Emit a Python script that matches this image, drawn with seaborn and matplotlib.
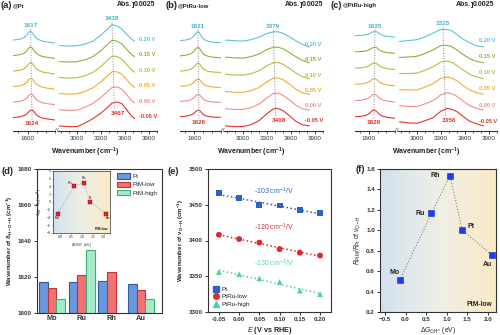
import numpy as np
import pandas as pd
import matplotlib
matplotlib.use('Agg')
import matplotlib.pyplot as plt
import seaborn as sns
from matplotlib.colors import LinearSegmentedColormap
from matplotlib.lines import Line2D
from matplotlib.patches import Patch
from matplotlib.ticker import MultipleLocator

# ------------------------------------------------------------------ data
potentials = ['-0.05 V', '0.00 V', '0.05 V', '0.10 V', '0.15 V', '0.20 V']
pot_colors = ['#e5352d', '#f48c8c', '#f5ac2e', '#bcbd3c', '#8bb23f', '#5ec3d7']

wn_lo = [1520, 1555, 1580, 1595, 1605, 1615, 1625, 1635, 1645, 1660, 1680, 1710, 1750]
wn_hi_a = [2780, 2900, 3000, 3100, 3200, 3300, 3380, 3440, 3500, 3560, 3620, 3680, 3720]
wn_hi_bc = [2780, 2900, 3000, 3100, 3200, 3300, 3380, 3440, 3500, 3580, 3660, 3740, 3830]

# absorbance (mAbs) relative to each curve's own baseline; rows: -0.05 ... 0.20 V
a_lo = [[0, 0.3, 0.9, 1.8, 2.8, 3.6, 3.8, 2.9, 1.7, 0.6, -0.2, -0.7, -1.2],
        [0, 0.3, 1.0, 2.0, 3.1, 3.9, 3.9, 2.8, 1.6, 0.5, -0.3, -0.8, -1.3],
        [0, 0.3, 1.0, 2.1, 3.3, 4.1, 3.9, 2.7, 1.5, 0.5, -0.3, -0.8, -1.3],
        [0, 0.4, 1.1, 2.2, 3.5, 4.3, 3.9, 2.6, 1.4, 0.4, -0.4, -0.9, -1.4],
        [0, 0.4, 1.1, 2.3, 3.6, 4.4, 3.8, 2.5, 1.3, 0.4, -0.4, -0.9, -1.4],
        [0, 0.4, 1.2, 2.5, 3.8, 4.5, 3.7, 2.4, 1.2, 0.3, -0.5, -1.0, -1.5]]
a_hi = [[-4.2, -4.5, -4.5, -2.8, -0.5, 2.3, 5.0, 7.3, 7.8, 7.0, 4.0, 0.8, -0.5],
        [-3.8, -4.2, -4.0, -2.6, -0.6, 2.4, 5.2, 7.4, 7.6, 6.5, 3.8, 0.8, -0.4],
        [-3.5, -3.8, -3.6, -2.4, -0.6, 2.4, 5.3, 7.5, 7.4, 6.2, 3.6, 0.7, -0.4],
        [-3.2, -3.5, -3.3, -2.3, -0.6, 2.4, 5.4, 7.6, 7.3, 6.0, 3.4, 0.6, -0.5],
        [-3.0, -3.2, -3.0, -2.1, -0.5, 2.5, 5.5, 7.7, 7.2, 5.8, 3.2, 0.6, -0.5],
        [-2.7, -3.0, -2.8, -2.0, -0.5, 2.5, 5.5, 7.8, 7.0, 5.5, 3.0, 0.5, -0.5]]
b_lo = [[0, 0.3, 0.8, 1.5, 2.3, 3.0, 3.3, 2.7, 1.6, 0.6, 0.0, -0.2, -0.3],
        [0, 0.3, 0.8, 1.6, 2.5, 3.3, 3.6, 2.8, 1.6, 0.6, 0.0, -0.3, -0.4],
        [0, 0.3, 0.9, 1.7, 2.7, 3.5, 3.8, 2.9, 1.6, 0.5, -0.1, -0.4, -0.6],
        [0, 0.3, 0.9, 1.8, 2.9, 3.8, 4.0, 2.9, 1.6, 0.5, -0.2, -0.5, -0.7],
        [0, 0.4, 1.0, 1.9, 3.1, 4.1, 4.2, 3.0, 1.6, 0.4, -0.3, -0.7, -0.9],
        [0, 0.4, 1.0, 2.0, 3.3, 4.3, 4.4, 3.0, 1.5, 0.4, -0.3, -0.8, -1.0]]
b_hi = [[-4.6, -5.0, -4.9, -4.0, -2.0, 1.5, 3.9, 4.1, 3.0, 0.5, -2.3, -4.0, -4.6],
        [-3.6, -4.0, -3.9, -3.1, -1.3, 1.9, 4.0, 4.2, 3.1, 0.8, -1.8, -3.6, -4.3],
        [-2.6, -3.0, -3.0, -2.2, -0.6, 2.3, 4.1, 4.2, 3.3, 1.1, -1.4, -3.2, -4.0],
        [-1.6, -2.0, -2.0, -1.3, 0.1, 2.7, 4.2, 4.3, 3.4, 1.4, -0.9, -2.7, -3.8],
        [-0.6, -1.0, -1.1, -0.4, 1.0, 3.2, 4.4, 4.3, 3.6, 1.7, -0.4, -2.2, -3.5],
        [0.3, 0.0, -0.2, 0.5, 1.8, 3.6, 4.5, 4.4, 3.7, 2.0, 0.0, -1.8, -3.3]]
c_lo = [[0, 0.2, 0.6, 1.2, 1.9, 2.7, 3.3, 3.2, 2.5, 1.2, 0.2, -0.4, -0.8],
        [0, 0.2, 0.6, 1.1, 1.7, 2.4, 3.0, 3.0, 2.4, 1.2, 0.2, -0.4, -0.8],
        [0, 0.2, 0.5, 1.0, 1.5, 2.2, 2.7, 2.8, 2.3, 1.1, 0.2, -0.4, -0.7],
        [0, 0.2, 0.5, 0.9, 1.4, 2.0, 2.5, 2.6, 2.2, 1.1, 0.2, -0.4, -0.7],
        [0, 0.2, 0.4, 0.8, 1.3, 1.8, 2.2, 2.4, 2.1, 1.0, 0.1, -0.4, -0.7],
        [0, 0.2, 0.4, 0.7, 1.1, 1.6, 2.0, 2.2, 2.0, 1.0, 0.1, -0.4, -0.65]]
c_hi = [[-2.5, -3.1, -3.3, -2.0, -0.5, 2.8, 4.2, 3.6, 2.5, 0.0, -2.3, -3.5, -4.6],
        [-2.6, -3.0, -3.0, -1.7, -0.1, 2.9, 3.9, 3.3, 2.1, -0.4, -2.6, -3.8, -4.8],
        [-2.7, -2.8, -2.8, -1.4, 0.3, 3.0, 3.7, 3.0, 1.7, -0.7, -2.9, -4.1, -5.0],
        [-2.7, -2.7, -2.5, -1.1, 0.7, 3.1, 3.5, 2.8, 1.3, -1.1, -3.1, -4.4, -5.2],
        [-2.8, -2.5, -2.2, -0.8, 1.0, 3.2, 3.3, 2.5, 0.9, -1.4, -3.4, -4.7, -5.4],
        [-2.9, -2.4, -2.0, -0.6, 1.3, 3.2, 3.1, 2.3, 0.5, -1.8, -3.6, -5.0, -5.6]]

# peak labels: (at -0.05 V, at 0.20 V)
a_pk_lo, a_pk_hi = (1624, 1617), (3467, 3438)
b_pk_lo, b_pk_hi = (1626, 1621), (3408, 3379)
c_pk_lo, c_pk_hi = (1629, 1635), (3356, 3325)

# (d)
metals = ['Mo', 'Ru', 'Rh', 'Au']
bar_cats = ['Pt', 'PtM-low', 'PtM-high']
d_pt = [1617, 1617, 1618, 1616]
d_low = [1614, 1621, 1623, 1613]
d_high = [1608, 1635, np.nan, 1608]

# inset (d) and (f)
f_metals = ['Mo', 'Ru', 'Rh', 'Pt', 'Au']
dG_OH = [-0.14, 0.63, 1.08, 1.38, 2.10]
d_shift = [-3, 4, 5, 0, -3]
ratio = [0.51, 1.165, 1.535, 1.00, 0.76]

# (e)
E_rhe = [-0.05, 0.00, 0.05, 0.10, 0.15, 0.20]
nu_pt = [3466, 3459, 3450, 3449, 3443, 3438]
nu_low = [3408, 3402, 3397, 3388, 3383, 3379]
nu_high = [3356, 3353, 3347, 3342, 3330, 3325]
e_series = ['Pt', 'PtRu-low', 'PtRu-high']
e_slopes = ['-103', '-120', '-130']

# ------------------------------------------------------------------ style
sns.set_theme(style='ticks')
plt.rcParams.update({
    'font.family': ['Liberation Sans', 'DejaVu Sans'],
    'mathtext.fontset': 'custom',
    'mathtext.rm': 'Liberation Sans',
    'mathtext.it': 'Liberation Sans:italic',
    'mathtext.bf': 'Liberation Sans:bold',
    'axes.linewidth': 0.8,
    'axes.edgecolor': '#333333',
    'xtick.color': '#333333',
    'ytick.color': '#333333',
    'text.color': '#222222',
    'axes.labelcolor': '#222222',
})

W, H = 500, 335
fig = plt.figure(figsize=(5, 3.35), dpi=100)


def rect(l, t, r, b):
    return [l / W, 1 - b / H, (r - l) / W, (b - t) / H]


def fx(x):
    return x / W


def fy(y):
    return 1 - y / H


SPEC_TOP, SPEC_BOT = 14, 131
YMAX = (SPEC_BOT - SPEC_TOP) * 0.5
TOP_C = '#45b6cf'
BOT_C = '#e0302a'
PANEL_FS = 6.8


def spectra_panel(x0, title, sub, lo, hi, wn_hi, L, R, base0, step, pk_lo, pk_hi,
                  lab_dy, bar_x):
    ax_lo = fig.add_axes(rect(L[0], SPEC_TOP, L[1], SPEC_BOT))
    ax_hi = fig.add_axes(rect(R[0], SPEC_TOP, R[1], SPEC_BOT))
    for k in range(6):
        base = base0 + step * k
        sns.lineplot(x=wn_lo, y=np.asarray(lo[k]) + base, ax=ax_lo,
                     color=pot_colors[k], lw=0.8)
        sns.lineplot(x=wn_hi, y=np.asarray(hi[k]) + base, ax=ax_hi,
                     color=pot_colors[k], lw=0.8)
        ax_hi.text(3770, base + lab_dy, potentials[k], color=pot_colors[k],
                   fontsize=4.1, fontweight='bold', va='center', ha='left')
    top_base = base0 + 5 * step
    # low-wavenumber peak guide
    ty = top_base + max(lo[5]) + 1.0
    ax_lo.plot([pk_lo[1], pk_lo[0]], [ty, base0 - 1.3], ls=':', color='#888888', lw=0.7)
    ax_lo.text(pk_lo[1], ty + 1.6, str(pk_lo[1]), color=TOP_C, fontsize=4.6,
               fontweight='bold', ha='center', va='center')
    ax_lo.text(pk_lo[0], base0 - 2.8, str(pk_lo[0]), color=BOT_C, fontsize=4.6,
               fontweight='bold', ha='center', va='center')
    # high-wavenumber peak guide
    ty = top_base + max(hi[5]) + 1.0
    by = base0 + max(hi[0]) - 6.0
    ax_hi.plot([pk_hi[1], pk_hi[0]], [ty, by + 1.8], ls=':', color='#888888', lw=0.7)
    ax_hi.text(pk_hi[1], ty + 1.8, str(pk_hi[1]), color=TOP_C, fontsize=4.6,
               fontweight='bold', ha='center', va='center')
    ax_hi.text(pk_hi[0] + 40, by, str(pk_hi[0]), color=BOT_C, fontsize=4.6,
               fontweight='bold', ha='center', va='center')

    for ax in (ax_lo, ax_hi):
        ax.set_facecolor('none')
        ax.set_ylim(0, YMAX)
        ax.set_yticks([])
        ax.set_xlabel('')
        ax.set_ylabel('')
        for s in ('top', 'left', 'right'):
            ax.spines[s].set_visible(False)
        ax.spines['bottom'].set_linewidth(0.8)
        ax.tick_params(axis='x', which='major', direction='out', length=2.2,
                       width=0.6, labelsize=4.5, pad=1.5)
        ax.tick_params(axis='x', which='minor', direction='out', length=1.3, width=0.5)
    ax_lo.set_xlim(1520, 1750)
    ax_lo.set_xticks([1600])
    ax_lo.xaxis.set_minor_locator(MultipleLocator(50))
    ax_hi.set_xlim(2760, 4000)
    ax_hi.set_xticks([3000, 3300, 3600, 3900])
    ax_hi.xaxis.set_minor_locator(MultipleLocator(100))

    fig.text(fx((L[1] + R[0]) / 2), fy(SPEC_BOT), '//', fontsize=4.5, ha='center',
             va='center', color='#333333')
    fig.text(fx(x0 + 0.5), fy(5), title, fontsize=PANEL_FS, fontweight='bold',
             ha='left', va='center')
    fig.text(fx(x0 + 12.5), fy(5.5), sub, fontsize=4.2, fontweight='bold',
             ha='left', va='center')
    # absorbance scale bar
    fig.text(fx(bar_x - 1.5), fy(5), 'Abs.', fontsize=5, fontweight='bold',
             ha='right', va='center')
    fig.text(fx(bar_x + 1.2), fy(5), '0.0025', fontsize=5, fontweight='bold',
             ha='left', va='center')
    fig.add_artist(Line2D([fx(bar_x - 1.3), fx(bar_x), fx(bar_x), fx(bar_x - 1.3)],
                          [fy(2.3), fy(2.3), fy(7.3), fy(7.3)], color='#222222', lw=0.7))
    fig.text(fx((L[0] + R[1]) / 2), fy(152), r'Wavenumber (cm$^{\mathbf{-1}}$)',
             fontsize=5.0, fontweight='bold', ha='center', va='center')


spectra_panel(0, '(a)', '@Pt', a_lo, a_hi, wn_hi_a, (13, 55), (57.8, 157),
              6.7, 7.75, a_pk_lo, a_pk_hi, 0.3, 133)
spectra_panel(165, '(b)', '@PtRu-low', b_lo, b_hi, wn_hi_bc, (180, 221), (223.8, 323),
              7.15, 7.6, b_pk_lo, b_pk_hi, -2.0, 301)
spectra_panel(330, '(c)', '@PtRu-high', c_lo, c_hi, wn_hi_bc, (355, 395), (397.8, 497),
              7.15, 8.1, c_pk_lo, c_pk_hi, -2.3, 472)

grad_cmap = LinearSegmentedColormap.from_list('bg', ['#d2e1ef', '#eef0e6', '#fbeac6'])


def gradient_bg(ax):
    ax.imshow(np.linspace(0, 1, 256)[None, :], cmap=grad_cmap, aspect='auto',
              extent=[0, 1, 0, 1], transform=ax.transAxes, zorder=0,
              interpolation='bilinear')


def bold_ticks(ax, size=4.5):
    ax.tick_params(labelsize=size, length=2.2, width=0.7, pad=1.5)
    for lbl in ax.get_xticklabels() + ax.get_yticklabels():
        lbl.set_fontweight('bold')


LAB_FS = 4.4

# ------------------------------------------------------------------ (d)
ax_d = fig.add_axes(rect(37, 169, 162, 313))
df_d = pd.DataFrame({'metal': metals * 3,
                     'wn': d_pt + d_low + d_high,
                     'cat': ['Pt'] * 4 + ['PtM-low'] * 4 + ['PtM-high'] * 4})
bar_faces = ['#6b97dc', '#f07272', '#a6ebc8']
bar_edges = ['#2d5aa0', '#c23434', '#3fae78']
sns.barplot(data=df_d, x='metal', y='wn', hue='cat', order=metals, hue_order=bar_cats,
            palette=bar_faces, saturation=1, width=0.87, ax=ax_d, legend=False,
            linewidth=0.8, edgecolor='k')
for cont, ec in zip(ax_d.containers, bar_edges):
    for p in cont:
        p.set_edgecolor(ec)
ax_d.set_xlim(-0.5, 3.7)
ax_d.set_ylim(1600, 1680)
ax_d.set_yticks(np.arange(1600, 1681, 20))
ax_d.set_xlabel('')
ax_d.set_ylabel(r'Wavenumber of $\mathbf{\delta_{H-O-H}}$ (cm$^{\mathbf{-1}}$)',
                fontsize=LAB_FS, fontweight='bold', labelpad=2)
bold_ticks(ax_d)
ax_d.tick_params(axis='x', labelsize=5.3, length=0)
for lbl in ax_d.get_xticklabels():
    lbl.set_fontweight('bold')
ax_d.legend(handles=[Patch(facecolor=f, edgecolor=e, lw=0.8) for f, e in zip(bar_faces, bar_edges)],
            labels=bar_cats, loc='upper right', fontsize=4.5, frameon=False,
            handlelength=2.2, handleheight=1.0, labelspacing=0.35, borderaxespad=0.3,
            handletextpad=0.4)
fig.text(fx(1), fy(172), '(d)', fontsize=PANEL_FS, fontweight='bold', ha='left', va='center')

# inset
ax_in = fig.add_axes(rect(53, 171, 110, 233))
gradient_bg(ax_in)
sns.lineplot(x=dG_OH, y=d_shift, ax=ax_in, sort=False, color='#8a8a8a', lw=0.5, ls=':')
sns.scatterplot(x=dG_OH, y=d_shift, ax=ax_in, color='#e8202a', edgecolor='#7a1010',
                s=6, marker='s', linewidth=0.3, zorder=3)
in_off = {'Mo': (0, -3.2), 'Ru': (-3, 2.5), 'Rh': (0, 3), 'Pt': (0, 3), 'Au': (2, -3.2)}
for m, xv, yv in zip(f_metals, dG_OH, d_shift):
    ax_in.annotate(m, (xv, yv), xytext=in_off[m], textcoords='offset points',
                   fontsize=2.5, ha='center', va='center')
ax_in.text(0.97, 0.04, 'PtM-low', transform=ax_in.transAxes, fontsize=2.5,
           ha='right', va='bottom', fontweight='bold')
ax_in.set_xlim(-0.35, 2.3)
ax_in.set_ylim(-8, 8)
ax_in.set_xticks([0.0, 0.5, 1.0, 1.5, 2.0])
ax_in.set_yticks(np.arange(-8, 9, 2))
ax_in.tick_params(labelsize=2.5, length=1, width=0.4, pad=0.8)
for s in ax_in.spines.values():
    s.set_linewidth(0.5)
ax_in.set_xlabel(r'$\Delta G_{\rm OH*}$ (eV)', fontsize=2.7, labelpad=0.8)
ax_in.set_ylabel(r'$\delta_{\rm PtM}-\delta_{\rm Pt}$ (cm$^{-1}$)', fontsize=2.7, labelpad=0.8)

# ------------------------------------------------------------------ (e)
ax_e = fig.add_axes(rect(208, 169, 331, 312))
e_colors = ['#2c62c6', '#e0282a', '#52d19e']
e_markers = ['s', 'o', '^']
e_vals = [nu_pt, nu_low, nu_high]
e_text_y = [3469, 3419, 3368]
for vals, col, mk, sl, ty in zip(e_vals, e_colors, e_markers, e_slopes, e_text_y):
    sns.regplot(x=E_rhe, y=vals, ax=ax_e, scatter=False, ci=None,
                line_kws=dict(ls=':', lw=1.1, color=col))
    sns.scatterplot(x=E_rhe, y=vals, ax=ax_e, color=col, marker=mk, s=18,
                    edgecolor='none', zorder=3)
    ax_e.text(0.087, ty, sl + r' cm$^{-1}$/V', color=col, fontsize=5,
              ha='center', va='center')
ax_e.set_xlim(-0.077, 0.227)
ax_e.set_ylim(3300, 3500)
ax_e.set_xticks(E_rhe)
ax_e.set_xticklabels(['-0.05', '0.00', '0.05', '0.10', '0.15', '0.20'])
ax_e.set_yticks(np.arange(3300, 3501, 50))
ax_e.set_xlabel(r'$\mathbf{\mathit{E}}$ (V vs RHE)', fontsize=5.2, fontweight='bold', labelpad=2)
ax_e.set_ylabel(r'Wavenumber of $\mathbf{\nu_{O-H}}$ (cm$^{\mathbf{-1}}$)', fontsize=LAB_FS,
                fontweight='bold', labelpad=2)
bold_ticks(ax_e)
ax_e.legend(handles=[Line2D([], [], ls='none', marker=m, color=c, markersize=4)
                     for m, c in zip(e_markers, e_colors)],
            labels=e_series, loc='lower left', fontsize=4.6, frameon=False,
            handletextpad=0.3, labelspacing=0.3, borderaxespad=0.4, handlelength=1.0)
fig.text(fx(167), fy(172), '(e)', fontsize=PANEL_FS, fontweight='bold', ha='left', va='center')

# ------------------------------------------------------------------ (f)
ax_f = fig.add_axes(rect(380, 169, 496, 312))
gradient_bg(ax_f)
sns.lineplot(x=dG_OH, y=ratio, ax=ax_f, sort=False, color='#808080', lw=0.8, ls=':')
sns.scatterplot(x=dG_OH, y=ratio, ax=ax_f, color='#1f3cf5', edgecolor='#1530b0',
                marker='s', s=24, linewidth=0.4, zorder=3)
f_off = {'Mo': ((-4, 6), 'center'), 'Ru': ((-5, 0), 'right'), 'Rh': ((-7, 0), 'right'),
         'Pt': ((4, 3), 'left'), 'Au': ((-3, -7), 'center')}
for m, xv, yv in zip(f_metals, dG_OH, ratio):
    off, ha = f_off[m]
    ax_f.annotate(m, (xv, yv), xytext=off, textcoords='offset points', fontsize=5,
                  fontweight='bold', ha=ha, va='center')
ax_f.text(0.97, 0.03, 'PtM-low', transform=ax_f.transAxes, fontsize=4.8,
          fontweight='bold', ha='right', va='bottom')
ax_f.set_xlim(-0.62, 2.2)
ax_f.set_ylim(0.2, 1.6)
ax_f.set_xticks([-0.5, 0.0, 0.5, 1.0, 1.5, 2.0])
ax_f.set_yticks(np.arange(0.2, 1.61, 0.2))
ax_f.set_yticklabels([f'{v:.1f}' for v in np.arange(0.2, 1.61, 0.2)])
ax_f.set_xlabel(r'$\Delta G_{\rm OH*}$ (eV)', fontsize=4.8, labelpad=2)
ax_f.set_ylabel(r'$R_{\rm PtM}/R_{\rm Pt}$ of $\nu_{\rm O-H}$', fontsize=4.8, labelpad=2)
bold_ticks(ax_f)
fig.text(fx(356), fy(170), '(f)', fontsize=PANEL_FS, fontweight='bold', ha='left', va='center')

fig.savefig('out.png', dpi=100)
